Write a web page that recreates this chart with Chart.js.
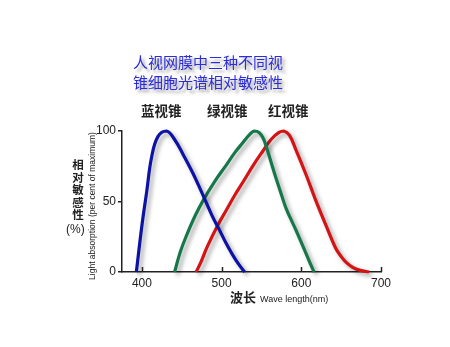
<!DOCTYPE html>
<html>
<head>
<meta charset="utf-8">
<script src="https://cdn.jsdelivr.net/npm/chart.js@4.4.1/dist/chart.umd.min.js"></script>
<style>
  body { margin: 0; background: #fff; }
  #wrap { position: relative; width: 450px; height: 347px; overflow: hidden; }
  #c { position: absolute; left: 0; top: 0; }
  .t { position: absolute; white-space: nowrap; }
  .title { left: 133px; font-family: "Noto Sans CJK SC"; font-size: 15px; color: #2b2be0;
           text-shadow: 3px 3px 3px rgba(80,80,80,0.55); line-height: 20px; }
  .cone { top: 100px; font-family: "Noto Sans CJK SC"; font-weight: bold; font-size: 13.5px; color: #222; }
</style>
</head>
<body>
<div id="wrap">
  <canvas id="c" width="450" height="347"></canvas>
  <div class="t title" style="top:52px">人视网膜中三种不同视</div>
  <div class="t title" style="top:72px">锥细胞光谱相对敏感性</div>
  <div class="t cone" style="left:141px">蓝视锥</div>
  <div class="t cone" style="left:207px">绿视锥</div>
  <div class="t cone" style="left:268px">红视锥</div>
  <div class="t" style="left:70px;top:158px;width:16px;text-align:center;font-family:'Noto Sans CJK SC';font-weight:bold;font-size:11.5px;line-height:12.5px;color:#222">相<br>对<br>敏<br>感<br>性</div>
  <div class="t" style="left:66px;top:222px;font-family:'Liberation Sans';font-size:12px;color:#222">(%)</div>
  <div class="t" style="left:92px;top:206px;transform:translate(-50%,-50%) rotate(-90deg);font-family:'Liberation Sans';font-size:8.5px;color:#222">Light absorption (per cent of maximum)</div>
  <div class="t" style="left:230px;top:287px;color:#222"><span style="font-family:'Noto Sans CJK SC';font-weight:bold;font-size:13px">波长</span> <span style="font-family:'Liberation Sans';font-size:9px">Wave length(nm)</span></div>
</div>
<script>
// wavelength (nm) and relative absorption (%)
const blueNm  = [393, 400, 406, 412, 420, 431, 441, 452, 464, 477, 488, 498, 506, 514, 522, 529]
const blueVal = [0, 33, 57, 81, 96, 100, 94, 83, 70, 54, 40, 29, 20, 12, 5, 0]

const greenNm  = [441, 448, 456, 466, 477, 491, 506, 517, 527, 535, 541, 547, 552, 556, 562, 568, 575, 581, 593, 606, 612, 616]
const greenVal = [0, 14, 26, 39, 51, 64, 76, 85, 92, 97.5, 100, 99, 95, 89, 78, 67, 55, 45, 30, 13, 5, 0]

const redNm  = [468, 474, 482, 495, 506, 517, 527, 540, 552, 562, 572, 578, 585, 593, 606, 618, 631, 643, 650, 656, 664, 672, 685]
const redVal = [0, 7, 18, 33, 44, 55, 64, 76, 86, 94, 99, 100, 97, 87, 69, 51, 33, 17, 11, 7, 3.5, 1.5, 0]

const xTicks = [400, 500, 600, 700]
const yTicks = [0, 50, 100]

const pts = (xs, ys) => xs.map((x, i) => ({ x: x, y: ys[i] }))

const shadow = {
    id: 'shadow',
    beforeDatasetDraw(chart) {
        const ctx = chart.ctx
        ctx.save()
        ctx.shadowColor = 'rgba(0,0,0,0.35)'
        ctx.shadowOffsetX = 3
        ctx.shadowOffsetY = 3
        ctx.shadowBlur = 4
    },
    afterDatasetDraw(chart) {
        chart.ctx.restore()
    }
}

// small tick marks pointing up from the x axis
const innerTicks = {
    id: 'innerTicks',
    afterDraw(chart) {
        const ctx = chart.ctx
        const x = chart.scales.x
        ctx.save()
        ctx.strokeStyle = '#222'
        ctx.lineWidth = 1.5
        xTicks.forEach(v => {
            const px = Math.round(x.getPixelForValue(v)) + 0.5
            ctx.beginPath()
            ctx.moveTo(px, x.top)
            ctx.lineTo(px, x.top - 5)
            ctx.stroke()
        })
        ctx.restore()
    }
}

const line = (data, color) => ({
    data: data,
    borderColor: color,
    borderWidth: 3.2,
    pointRadius: 0,
    fill: false,
    tension: 0.4,
    clip: false,
})

new Chart(document.getElementById('c'), {
    type: 'line',
    data: {
        datasets: [
            line(pts(blueNm, blueVal), '#0d12a6'),
            line(pts(greenNm, greenVal), '#16784a'),
            line(pts(redNm, redVal), '#d41414'),
        ]
    },
    options: {
        responsive: false,
        animation: false,
        events: [],
        layout: { padding: { left: 82, top: 131, right: 69, bottom: 45 } },
        plugins: { legend: { display: false }, tooltip: { enabled: false } },
        scales: {
            x: {
                type: 'linear',
                min: 375,
                max: 700,
                afterBuildTicks: s => { s.ticks = xTicks.map(v => ({ value: v })) },
                afterFit: s => { s.height = 30 },
                grid: { drawOnChartArea: false, drawTicks: false },
                border: { color: '#222', width: 1.5 },
                ticks: { padding: 4, color: '#222', font: { family: 'Liberation Sans', size: 12 } },
            },
            y: {
                min: 0,
                max: 100,
                afterBuildTicks: s => { s.ticks = yTicks.map(v => ({ value: v })) },
                afterFit: s => { s.width = 40 },
                grid: { drawOnChartArea: false, tickLength: 4, color: '#222', lineWidth: 1.5 },
                border: { color: '#222', width: 1.5 },
                ticks: { padding: 2, color: '#222', font: { family: 'Liberation Sans', size: 12 } },
            },
        },
    },
    plugins: [shadow, innerTicks],
})
</script>
</body>
</html>
